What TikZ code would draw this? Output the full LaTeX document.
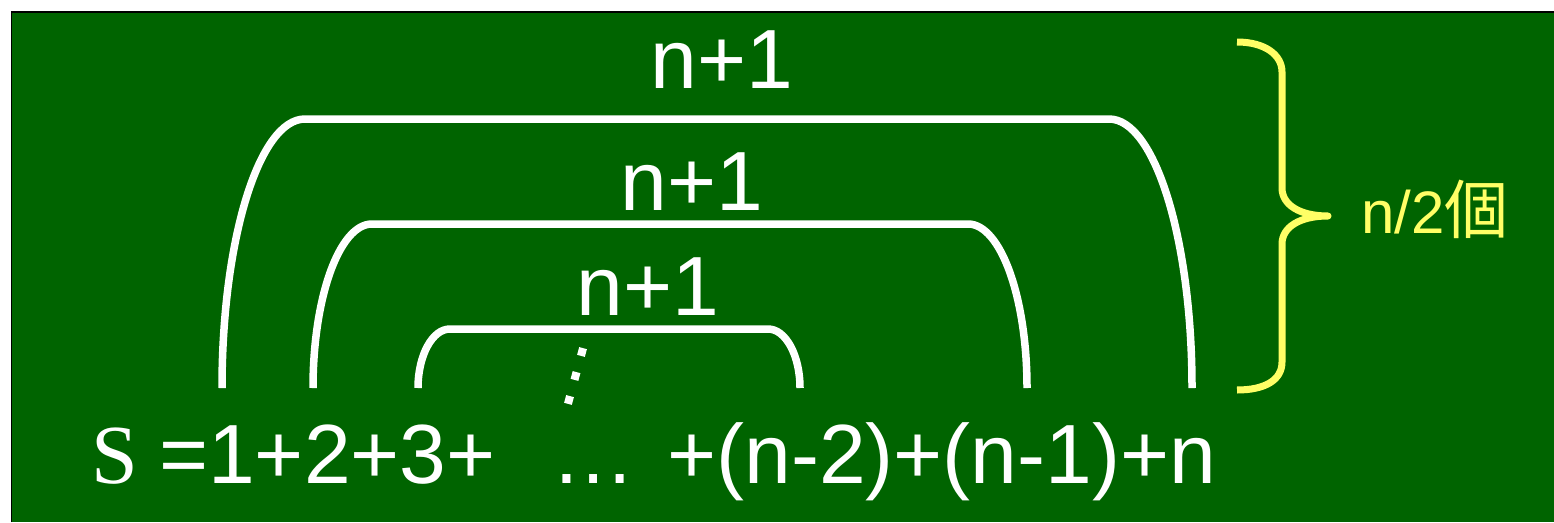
\documentclass[tikz,border=0pt]{standalone}
\usepackage{fontspec}
\setmainfont{Liberation Sans}
\newfontfamily\serifrm{Liberation Serif}
\newfontfamily\cjk{Noto Sans CJK JP}
\definecolor{board}{RGB}{0,100,0}
\definecolor{chalkyellow}{RGB}{255,255,102}
\tikzset{
  span/.style={draw=white, line width=7.5pt, line cap=butt, line join=round},
  brace/.style={draw=chalkyellow, line width=7pt, line cap=butt, line join=round},
  bigtext/.style={text=white, inner sep=0pt, font=\fontsize{84}{96}\selectfont},
  sumlabel/.style={bigtext, anchor=base},
  counttext/.style={text=chalkyellow, inner sep=0pt, anchor=base west, font=\fontsize{60}{72}\selectfont},
}
\begin{document}
\begin{tikzpicture}[x=1pt,y=-1pt]
\useasboundingbox (0,0) rectangle (1554,522);
\fill[white] (0,0) rectangle (1554,522);
\fill[board] (11.5,12) rectangle (1554,522);
\draw[black, line width=1.6pt] (11.5,522) -- (11.5,12) -- (1554,12);

% spans
\draw[span] (222,388) .. controls (222,239.4) and (259.2,119) .. (305,119) -- (1109,119) .. controls (1154.8,119) and (1192,239.4) .. (1192,388);
\draw[span] (313,388) .. controls (313,297.4) and (339.4,224) .. (372,224) -- (968,224) .. controls (1000.6,224) and (1027,297.4) .. (1027,388);
\draw[span] (418,388) .. controls (418,355.4) and (432.3,329) .. (450,329) -- (768,329) .. controls (785.7,329) and (800,355.4) .. (800,388);

% vertical dots
\draw[draw=white, line width=8pt, dash pattern=on 8pt off 16.85pt] (583.05,348.14) -- (567.95,403.86);

% labels
\node[sumlabel] (l1) at (722,88) {n+1};
\node[sumlabel] (l2) at (692,210) {n+1};
\node[sumlabel] (l3) at (648,315) {n+1};

% sum line
\node[bigtext, anchor=base west] (sum) at (91,483) {{\serifrm S}\hspace{21.3pt}=1+2+3+\hspace{56pt}…\hspace{32pt}+(n-2)+(n-1)+n};

% brace
\draw[brace] (1237,42) .. controls (1265,42) and (1282,55) .. (1282,72) -- (1282,188) .. controls (1282,205) and (1300,216) .. (1328,216)
  .. controls (1300,216) and (1282,227) .. (1282,244) -- (1282,362) .. controls (1282,380) and (1265,390) .. (1237,390);
\node[counttext] (cnt) at (1361,233) {n/2{\cjk\fontsize{64}{72}\selectfont 個}};
\end{tikzpicture}
\end{document}
